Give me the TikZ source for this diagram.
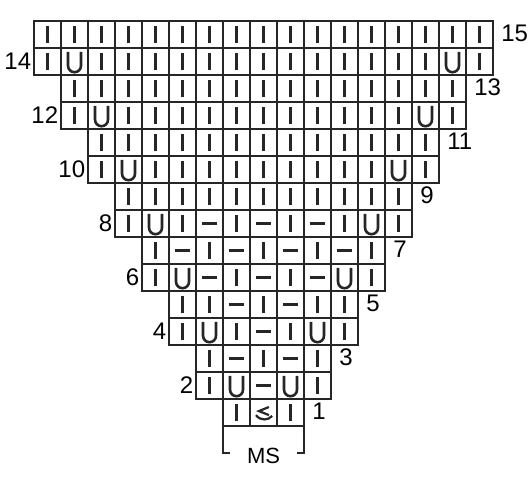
\documentclass[tikz,border=0pt]{standalone}
\usepackage{fontspec}
\setmainfont{Liberation Sans}

\begin{document}
\begin{tikzpicture}[x=27pt,y=27pt,
  cellbox/.style={draw=black!85, line width=1.8pt},
  stitch/.style={black!85, line width=2.6pt},
  rowno/.style={font=\fontsize{24}{24}\selectfont, inner sep=0pt}]
\useasboundingbox (0,0) rectangle (19.63,17.815);
\def\cx{9.76}
\def\yb{2.04}

% chart rows: 0 = knit, 1 = purl, 2 = yarn over, 3 = centre stitch
\foreach \r/\syms in {1/{0,3,0}, 2/{0,2,1,2,0}, 3/{0,1,0,1,0},
    4/{0,2,0,1,0,2,0}, 5/{0,0,1,0,1,0,0},
    6/{0,2,1,0,1,0,1,2,0}, 7/{0,1,0,1,0,1,0,1,0},
    8/{0,2,0,1,0,1,0,1,0,2,0}, 9/{0,0,0,0,0,0,0,0,0,0,0},
    10/{0,2,0,0,0,0,0,0,0,0,0,2,0}, 11/{0,0,0,0,0,0,0,0,0,0,0,0,0},
    12/{0,2,0,0,0,0,0,0,0,0,0,0,0,2,0}, 13/{0,0,0,0,0,0,0,0,0,0,0,0,0,0,0},
    14/{0,2,0,0,0,0,0,0,0,0,0,0,0,0,0,2,0}, 15/{0,0,0,0,0,0,0,0,0,0,0,0,0,0,0,0,0}} {
  \pgfmathtruncatemacro\n{\r+2+mod(\r+1,2)}
  \foreach \s [count=\i] in \syms {
    \begin{scope}[shift={(\cx-\n/2+\i-0.5, \yb+\r-0.5)}]
      \draw[cellbox] (-0.5,-0.5) rectangle (0.5,0.5);
      \ifcase\s
        \draw[stitch] (0,-0.33) -- (0,0.33);
      \or
        \draw[stitch] (-0.29,0) -- (0.29,0);
      \or
        \draw[stitch] (-0.24,0.35) -- (-0.24,-0.16) arc (180:360:0.24) -- (0.24,0.35);
      \or
        \draw[stitch, line width=2.2pt] (0.2,0.2) -- (-0.17,0.05) -- (0.2,-0.1);
        \draw[stitch, line width=2.2pt] (-0.28,-0.1) .. controls (-0.12,-0.32) and (0.18,-0.3) .. (0.32,-0.13);
      \fi
    \end{scope}
  }
}

% row numbers
\foreach \r in {1,3,...,15}
  \node[rowno, anchor=west] (row\r) at (\cx+\r/2+1+0.3, \yb+\r-0.45) {\r};
\foreach \r in {2,4,...,14}
  \node[rowno, anchor=east] (row\r) at (\cx-\r/2-1.5-0.1, \yb+\r-0.48) {\r};

% MS bracket
\coordinate (msL) at (\cx-1.5,\yb);
\coordinate (msR) at (\cx+1.5,\yb);
\draw[cellbox] (msL) -- ++(0,-1) -- ++(0.27,0);
\draw[cellbox] (msR) -- ++(0,-1) -- ++(-0.27,0);
\node[font=\fontsize{22}{22}\selectfont, inner sep=0pt] (ms) at (\cx,\yb-1.11) {MS};
\end{tikzpicture}
\end{document}
